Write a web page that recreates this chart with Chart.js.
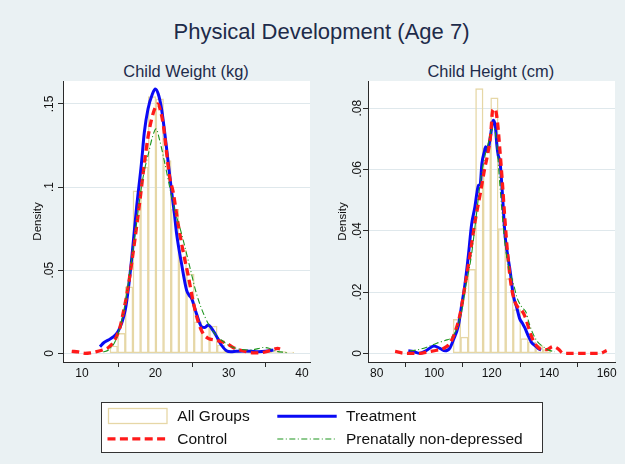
<!DOCTYPE html>
<html>
<head>
<meta charset="utf-8">
<script src="https://cdn.jsdelivr.net/npm/chart.js@4.4.1/dist/chart.umd.min.js"></script>
<style>
html,body{margin:0;padding:0;background:#EAF1F3;}
body{width:625px;height:464px;position:relative;overflow:hidden;font-family:"Liberation Sans",Arial,Helvetica,sans-serif;}
.t{position:absolute;white-space:nowrap;}
.title{color:#1d2b4a;font-size:22px;line-height:22px;transform:translateX(-50%);}
.sub{color:#1d2b4a;font-size:16.4px;line-height:16.4px;transform:translateX(-50%);}
.lg{color:#111;font-size:15.5px;line-height:15.5px;}
canvas{position:absolute;}
#legendBox{position:absolute;left:100.5px;top:401.5px;width:442px;height:51px;background:#fff;border:1px solid #333;box-sizing:border-box;}
svg{position:absolute;left:0;top:0;}
</style>
</head>
<body>
<div class="t title" style="left:321.5px;top:21.4px;">Physical Development (Age 7)</div>
<div class="t sub" style="left:186px;top:62.8px;">Child Weight (kg)</div>
<div class="t sub" style="left:490.8px;top:62.8px;">Child Height (cm)</div>

<canvas id="cw" width="315" height="320" style="left:0px;top:73px;"></canvas>
<canvas id="ch" width="315" height="320" style="left:310px;top:73px;"></canvas>

<div id="legendBox"></div>
<svg width="625" height="464">
  <rect x="108.5" y="408.5" width="58.5" height="15" fill="#fff" stroke="#E6D7A6" stroke-width="1.3"/>
  <line x1="277.3" y1="416.2" x2="336.7" y2="416.2" stroke="#0A0AF5" stroke-width="3"/>
  <line x1="107.5" y1="438.8" x2="167.3" y2="438.8" stroke="#FF1A1A" stroke-width="3.3" stroke-dasharray="8 4.4"/>
  <line x1="277.3" y1="439" x2="336.7" y2="439" stroke="#1E961E" stroke-width="1.1" stroke-dasharray="6 2.5 1 2.5"/>
</svg>
<div class="t lg" style="left:177.3px;top:408px;">All Groups</div>
<div class="t lg" style="left:346px;top:408px;">Treatment</div>
<div class="t lg" style="left:177.3px;top:431.4px;">Control</div>
<div class="t lg" style="left:346px;top:431.4px;">Prenatally non-depressed</div>

<script>
// ---------- Child Weight (kg) ----------
const weightBinCenters = [14.33, 15.38, 16.42, 17.47, 18.51, 19.56, 20.60, 21.64, 22.69, 23.73, 24.78, 25.82, 26.87, 27.91, 28.96, 30.00, 31.04, 32.09, 33.13, 34.18, 35.22, 36.27, 37.31, 38.36];
const weightBinDensity = [0.0044, 0.012, 0.040, 0.0977, 0.112, 0.1544, 0.153, 0.116, 0.0866, 0.0621, 0.0477, 0.019, 0.0164, 0.0164, 0.005, 0.002, 0.0015, 0.001, 0.001, 0.0012, 0.0015, 0.001, 0.001, 0.0008];

const weightTreatX = [12.45, 13.0, 13.6, 14.3, 14.9, 15.4, 15.9, 16.3, 16.8, 17.45, 18.1, 18.5, 19.0, 19.6, 20.0, 20.4, 20.85, 21.3, 21.75, 22.2, 22.6, 22.9, 23.57, 24.26, 24.6, 24.94, 25.6, 26.3, 26.75, 27.2, 27.9, 28.5, 29.0, 29.7, 30.3, 31.0, 32.0, 33.0, 34.0, 35.0, 36.1];
const weightTreatY = [0.004, 0.0065, 0.008, 0.010, 0.013, 0.018, 0.026, 0.038, 0.058, 0.088, 0.114, 0.133, 0.147, 0.156, 0.159, 0.156, 0.147, 0.132, 0.115, 0.098, 0.084, 0.072, 0.054, 0.038, 0.035, 0.033, 0.024, 0.016, 0.0155, 0.017, 0.0135, 0.009, 0.005, 0.0016, 0.001, 0.0012, 0.0014, 0.0013, 0.001, 0.0012, 0.002];

const weightControlX = [8.6, 9.5, 10.4, 11.2, 12.0, 12.8, 13.6, 14.2, 14.7, 15.2, 15.6, 16.1, 16.5, 17.2, 17.9, 18.5, 19.0, 19.5, 20.0, 20.35, 20.7, 21.1, 21.5, 21.94, 22.43, 23.1, 23.8, 24.47, 25.16, 25.84, 26.5, 27.2, 28.1, 29.0, 29.7, 30.6, 31.5, 32.4, 33.3, 34.2, 35.15, 36.0, 36.7, 37.0];
const weightControlY = [0.0012, 0.0008, 0.0, 0.0003, 0.001, 0.002, 0.0035, 0.006, 0.010, 0.016, 0.024, 0.035, 0.046, 0.068, 0.092, 0.114, 0.130, 0.141, 0.148, 0.150, 0.146, 0.137, 0.122, 0.106, 0.097, 0.078, 0.061, 0.047, 0.031, 0.019, 0.012, 0.009, 0.008, 0.007, 0.006, 0.0035, 0.002, 0.001, 0.0003, 0.0003, 0.001, 0.0022, 0.003, 0.0025];

const weightNonDepX = [12.9, 13.6, 14.5, 15.2, 15.8, 16.3, 17.2, 18.1, 18.6, 19.0, 19.6, 20.1, 20.6, 21.26, 22.0, 22.66, 23.57, 24.7, 25.6, 26.75, 27.9, 29.0, 30.4, 31.5, 32.9, 34.0, 34.7, 35.5, 36.3, 37.9];
const weightNonDepY = [0.0008, 0.002, 0.007, 0.016, 0.028, 0.042, 0.070, 0.100, 0.112, 0.119, 0.130, 0.135, 0.128, 0.115, 0.099, 0.086, 0.072, 0.052, 0.036, 0.022, 0.013, 0.008, 0.004, 0.0025, 0.002, 0.0028, 0.0035, 0.003, 0.0015, 0.0004];

const weightXTicks = [10, 20, 30, 40];
const weightXTickLabels = ['10', '20', '30', '40'];
const weightYTicks = [0, 0.05, 0.1, 0.15];
const weightYTickLabels = ['0', '.05', '.1', '.15'];

// ---------- Child Height (cm) ----------
const heightBinCenters = [107.9, 110.5, 113.1, 115.7, 118.35, 120.95, 123.55, 126.2, 128.8, 131.4, 134.0, 136.6, 139.2];
const heightBinDensity = [0.0111, 0.0053, 0.0274, 0.0864, 0.067, 0.0834, 0.0407, 0.0244, 0.0143, 0.0048, 0.0037, 0.0025, 0.0012];

const heightTreatX = [91.0, 92.7, 95.0, 97.4, 99.9, 102.0, 103.8, 105.5, 106.7, 108.4, 109.6, 110.7, 111.9, 113.0, 114.2, 114.8, 115.4, 116.0, 116.6, 117.5, 117.9, 118.6, 119.4, 120.6, 121.3, 121.8, 122.3, 122.9, 123.8, 124.6, 125.4, 126.4, 127.5, 128.7, 129.7, 130.7, 131.6, 132.8, 133.9, 135.1, 136.3, 137.2];
const heightTreatY = [0.0008, 0.0006, 0.0, 0.001, 0.0024, 0.0016, 0.0008, 0.0018, 0.0044, 0.009, 0.016, 0.0225, 0.032, 0.042, 0.048, 0.052, 0.0548, 0.0552, 0.062, 0.066, 0.0674, 0.0658, 0.0698, 0.0761, 0.074, 0.068, 0.0645, 0.0625, 0.051, 0.039, 0.033, 0.027, 0.019, 0.015, 0.0114, 0.0098, 0.0082, 0.0055, 0.0035, 0.0025, 0.0015, 0.0011];

const heightControlX = [86.4, 89.9, 95.0, 98.0, 100.9, 103.2, 105.5, 107.2, 109.0, 110.8, 112.6, 114.3, 116.1, 117.5, 118.5, 119.6, 120.4, 121.2, 122.0, 122.8, 123.7, 124.5, 125.6, 126.8, 128.0, 129.3, 130.6, 131.8, 132.8, 134.3, 135.9, 137.6, 139.1, 141.3, 143.2, 144.9, 149.6, 154.2, 157.7, 160.0];
const heightControlY = [0.0006, 0.0, 0.0, 0.0005, 0.001, 0.0016, 0.0033, 0.0068, 0.0127, 0.0225, 0.033, 0.0435, 0.0525, 0.060, 0.0645, 0.071, 0.0795, 0.0798, 0.0756, 0.067, 0.056, 0.045, 0.032, 0.022, 0.017, 0.0148, 0.0138, 0.0115, 0.0085, 0.0045, 0.0022, 0.0012, 0.0012, 0.0022, 0.0014, 0.0, 0.0, 0.0, 0.0, 0.0009];

const heightNonDepX = [91.5, 94.5, 97.4, 100.9, 103.8, 106.1, 107.8, 109.6, 111.0, 112.8, 114.5, 116.2, 117.8, 118.8, 119.8, 120.8, 121.8, 122.7, 123.6, 124.6, 125.9, 127.5, 128.8, 130.4, 132.0, 132.8, 134.1, 135.9, 137.6, 139.7, 142.0];
const heightNonDepY = [0.0008, 0.0012, 0.002, 0.0033, 0.0042, 0.0052, 0.008, 0.014, 0.022, 0.031, 0.0438, 0.057, 0.065, 0.0686, 0.0725, 0.0735, 0.068, 0.0568, 0.046, 0.036, 0.028, 0.023, 0.0182, 0.0152, 0.0133, 0.0105, 0.007, 0.0038, 0.0024, 0.0011, 0.0005];

const heightXTicks = [80, 100, 120, 140, 160];
const heightXTickLabels = ['80', '100', '120', '140', '160'];
const heightYTicks = [0, 0.02, 0.04, 0.06, 0.08];
const heightYTickLabels = ['0', '.02', '.04', '.06', '.08'];

const seriesNames = ['All Groups', 'Treatment', 'Control', 'Prenatally non-depressed'];

// ---------- styling ----------
const FONT = '"Liberation Sans", Arial, Helvetica, sans-serif';
const AXIS = '#2a2a2a';
const GRID = '#DFE8EC';
const BEIGE = '#E6D7A6';
const BLUE = '#0A0AF5';
const RED = '#FF1A1A';
const GREEN = '#1E961E';

function pts(xs, ys) { return xs.map((x, i) => ({ x: x, y: ys[i] })); }

const whiteArea = {
  id: 'whiteArea',
  beforeDraw(chart) {
    const a = chart.chartArea, ctx = chart.ctx;
    ctx.save();
    ctx.fillStyle = '#ffffff';
    ctx.fillRect(a.left, a.top, a.right - a.left, a.bottom - a.top);
    ctx.restore();
  }
};

function makePanel(id, p) {
  return new Chart(document.getElementById(id), {
    type: 'bar',
    data: {
      datasets: [
        { type: 'bar', label: seriesNames[0], data: pts(p.binX, p.binY),
          backgroundColor: 'rgba(255,255,255,0)', borderColor: BEIGE, borderWidth: 0.8,
          borderSkipped: false, barPercentage: 1, categoryPercentage: 1, order: 4 },
        { type: 'line', label: seriesNames[1], data: pts(p.tX, p.tY), borderColor: BLUE,
          borderWidth: 3, pointRadius: 0, fill: false, cubicInterpolationMode: 'monotone', order: 3 },
        { type: 'line', label: seriesNames[2], data: pts(p.cX, p.cY), borderColor: RED,
          borderWidth: 3.3, borderDash: [7.5, 4.5], pointRadius: 0, fill: false, cubicInterpolationMode: 'monotone', order: 2 },
        { type: 'line', label: seriesNames[3], data: pts(p.nX, p.nY), borderColor: GREEN,
          borderWidth: 1.1, borderDash: [6, 2.5, 1, 2.5], pointRadius: 0, fill: false, cubicInterpolationMode: 'monotone', order: 1 }
      ]
    },
    options: {
      responsive: false,
      animation: false,
      events: [],
      layout: { padding: { left: 0, top: 8, right: p.padRight, bottom: 3 } },
      plugins: { legend: { display: false }, title: { display: false }, tooltip: { enabled: false } },
      scales: {
        x: {
          type: 'linear', min: p.xMin, max: p.xMax, offset: false, bounds: 'data',
          grid: { display: true, drawOnChartArea: false, drawTicks: true, tickLength: 5, tickColor: AXIS, tickWidth: 1 },
          border: { display: true, color: AXIS, width: 1 },
          ticks: { color: '#111', font: { family: FONT, size: 12 }, padding: -1, maxRotation: 0, minRotation: 0, autoSkip: false,
                   callback: (v, i) => p.xLabels[i] },
          afterBuildTicks: s => { s.ticks = p.xTicks.map(v => ({ value: v })); },
          afterFit: s => { s.height = 28; }
        },
        y: {
          type: 'linear', min: p.yMin, max: p.yMax, bounds: 'data',
          grid: { color: GRID, lineWidth: 1, drawTicks: true, tickLength: 5, tickColor: AXIS, tickWidth: 1 },
          border: { display: true, color: AXIS, width: 1 },
          ticks: { color: '#111', font: { family: FONT, size: 12 }, padding: p.yTickPad, minRotation: 90, maxRotation: 90,
                   crossAlign: 'center', autoSkip: false, callback: (v, i) => p.yLabels[i] },
          afterBuildTicks: s => { s.ticks = p.yTicks.map(v => ({ value: v })); },
          afterFit: s => { s.width = p.yWidth; },
          title: { display: true, text: 'Density', color: '#111', font: { family: FONT, size: 11.5 },
                   padding: { top: p.titlePad, bottom: 0 } }
        }
      }
    },
    plugins: [whiteArea]
  });
}

makePanel('cw', {
  binX: weightBinCenters, binY: weightBinDensity,
  tX: weightTreatX, tY: weightTreatY, cX: weightControlX, cY: weightControlY, nX: weightNonDepX, nY: weightNonDepY,
  xMin: 7.41, xMax: 41.09, yMin: -0.00523, yMax: 0.1638,
  xTicks: weightXTicks, xLabels: weightXTickLabels, yTicks: weightYTicks, yLabels: weightYTickLabels,
  padRight: 5, yWidth: 63, yTickPad: 0, titlePad: 30.5
});

makePanel('ch', {
  binX: heightBinCenters, binY: heightBinDensity,
  tX: heightTreatX, tY: heightTreatY, cX: heightControlX, cY: heightControlY, nX: heightNonDepX, nY: heightNonDepY,
  xMin: 76.97, xMax: 162.9, yMin: -0.00284, yMax: 0.0889,
  xTicks: heightXTicks, xLabels: heightXTickLabels, yTicks: heightYTicks, yLabels: heightYTickLabels,
  padRight: 10, yWidth: 58, yTickPad: -3, titlePad: 25.5
});
</script>
</body>
</html>
